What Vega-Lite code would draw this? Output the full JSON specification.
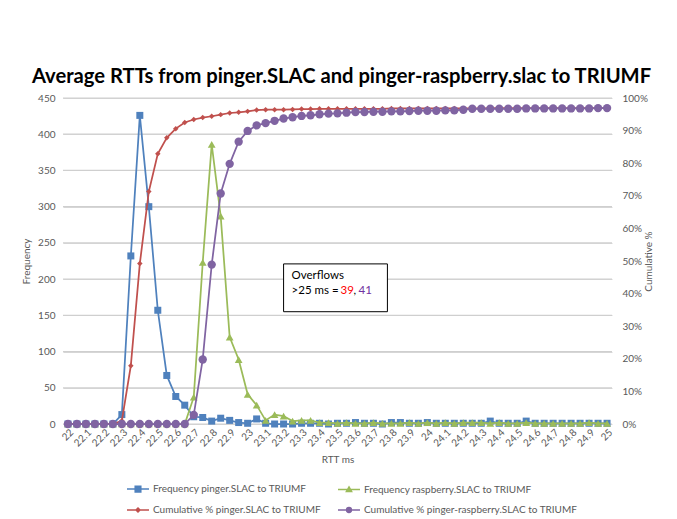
{
  "$schema": "https://vega.github.io/schema/vega-lite/v6.json",
  "width": 549,
  "height": 326,
  "autosize": {"type": "none"},
  "padding": {"left": 63, "top": 98, "right": 65, "bottom": 95},
  "title": {"text": "Average RTTs from pinger.SLAC and pinger-raspberry.slac to TRIUMF", "fontSize": 20.2, "font": "Lato", "fontWeight": "bold", "color": "#000000", "anchor": "middle", "offset": 6, "dx": 4},
  "datasets": {
    "gridv": [{"v": 0}, {"v": 50}, {"v": 100}, {"v": 150}, {"v": 200}, {"v": 250}, {"v": 300}, {"v": 350}, {"v": 400}, {"v": 450}],
    "rtt": [
      {"rtt": "22", "fp": 0, "fr": 0, "cp": 0, "cr": 0},
      {"rtt": "22.05", "fp": 0, "fr": 0, "cp": 0, "cr": 0},
      {"rtt": "22.1", "fp": 0, "fr": 0, "cp": 0, "cr": 0},
      {"rtt": "22.15", "fp": 0, "fr": 0, "cp": 0, "cr": 0},
      {"rtt": "22.2", "fp": 0, "fr": 0, "cp": 0, "cr": 0},
      {"rtt": "22.25", "fp": 0, "fr": 0, "cp": 0, "cr": 0},
      {"rtt": "22.3", "fp": 13, "fr": 0, "cp": 1, "cr": 0},
      {"rtt": "22.35", "fp": 232, "fr": 0, "cp": 17.9, "cr": 0},
      {"rtt": "22.4", "fp": 426, "fr": 0, "cp": 49.2, "cr": 0},
      {"rtt": "22.45", "fp": 300, "fr": 0, "cp": 71.3, "cr": 0},
      {"rtt": "22.5", "fp": 157, "fr": 0, "cp": 82.9, "cr": 0},
      {"rtt": "22.55", "fp": 67, "fr": 0, "cp": 87.8, "cr": 0},
      {"rtt": "22.6", "fp": 38, "fr": 0, "cp": 90.6, "cr": 0},
      {"rtt": "22.65", "fp": 26, "fr": 0, "cp": 92.5, "cr": 0},
      {"rtt": "22.7", "fp": 10, "fr": 37, "cp": 93.4, "cr": 2.8},
      {"rtt": "22.75", "fp": 9, "fr": 223, "cp": 94.0, "cr": 19.8},
      {"rtt": "22.8", "fp": 4, "fr": 386, "cp": 94.4, "cr": 48.9},
      {"rtt": "22.85", "fp": 8, "fr": 287, "cp": 94.9, "cr": 70.7},
      {"rtt": "22.9", "fp": 5, "fr": 120, "cp": 95.4, "cr": 79.8},
      {"rtt": "22.95", "fp": 2, "fr": 89, "cp": 95.6, "cr": 86.6},
      {"rtt": "23", "fp": 1, "fr": 41, "cp": 95.9, "cr": 89.9},
      {"rtt": "23.05", "fp": 7, "fr": 26, "cp": 96.3, "cr": 91.6},
      {"rtt": "23.1", "fp": 1, "fr": 5, "cp": 96.4, "cr": 92.3},
      {"rtt": "23.15", "fp": 0, "fr": 13, "cp": 96.4, "cr": 93.0},
      {"rtt": "23.2", "fp": 0, "fr": 11, "cp": 96.4, "cr": 93.7},
      {"rtt": "23.25", "fp": 0, "fr": 4, "cp": 96.5, "cr": 94.1},
      {"rtt": "23.3", "fp": 1, "fr": 5, "cp": 96.6, "cr": 94.5},
      {"rtt": "23.35", "fp": 1, "fr": 5, "cp": 96.6, "cr": 94.7},
      {"rtt": "23.4", "fp": 1, "fr": 2, "cp": 96.7, "cr": 95.0},
      {"rtt": "23.45", "fp": 0, "fr": 2, "cp": 96.7, "cr": 95.2},
      {"rtt": "23.5", "fp": 1, "fr": 1, "cp": 96.7, "cr": 95.3},
      {"rtt": "23.55", "fp": 1, "fr": 2, "cp": 96.7, "cr": 95.5},
      {"rtt": "23.6", "fp": 2, "fr": 1, "cp": 96.7, "cr": 95.7},
      {"rtt": "23.65", "fp": 1, "fr": 1, "cp": 96.7, "cr": 95.7},
      {"rtt": "23.7", "fp": 1, "fr": 2, "cp": 96.7, "cr": 95.8},
      {"rtt": "23.75", "fp": 0, "fr": 1, "cp": 96.7, "cr": 95.8},
      {"rtt": "23.8", "fp": 2, "fr": 1, "cp": 96.8, "cr": 95.9},
      {"rtt": "23.85", "fp": 2, "fr": 1, "cp": 96.8, "cr": 95.9},
      {"rtt": "23.9", "fp": 1, "fr": 2, "cp": 96.8, "cr": 96.0},
      {"rtt": "23.95", "fp": 1, "fr": 1, "cp": 96.8, "cr": 96.1},
      {"rtt": "24", "fp": 2, "fr": 2, "cp": 96.8, "cr": 96.1},
      {"rtt": "24.05", "fp": 1, "fr": 1, "cp": 96.8, "cr": 96.1},
      {"rtt": "24.1", "fp": 1, "fr": 2, "cp": 96.8, "cr": 96.2},
      {"rtt": "24.15", "fp": 1, "fr": 1, "cp": 96.8, "cr": 96.2},
      {"rtt": "24.2", "fp": 1, "fr": 2, "cp": 96.8, "cr": 96.4},
      {"rtt": "24.25", "fp": 1, "fr": 2, "cp": 96.8, "cr": 96.7},
      {"rtt": "24.3", "fp": 1, "fr": 2, "cp": 96.8, "cr": 96.7},
      {"rtt": "24.35", "fp": 4, "fr": 1, "cp": 96.9, "cr": 96.7},
      {"rtt": "24.4", "fp": 1, "fr": 2, "cp": 96.9, "cr": 96.7},
      {"rtt": "24.45", "fp": 1, "fr": 1, "cp": 96.9, "cr": 96.7},
      {"rtt": "24.5", "fp": 1, "fr": 1, "cp": 96.9, "cr": 96.7},
      {"rtt": "24.55", "fp": 4, "fr": 2, "cp": 96.9, "cr": 96.8},
      {"rtt": "24.6", "fp": 1, "fr": 1, "cp": 96.9, "cr": 96.8},
      {"rtt": "24.65", "fp": 1, "fr": 1, "cp": 96.9, "cr": 96.8},
      {"rtt": "24.7", "fp": 1, "fr": 1, "cp": 96.9, "cr": 96.8},
      {"rtt": "24.75", "fp": 1, "fr": 1, "cp": 96.9, "cr": 96.8},
      {"rtt": "24.8", "fp": 1, "fr": 1, "cp": 96.9, "cr": 96.8},
      {"rtt": "24.85", "fp": 1, "fr": 1, "cp": 96.9, "cr": 96.8},
      {"rtt": "24.9", "fp": 1, "fr": 2, "cp": 96.9, "cr": 96.8},
      {"rtt": "24.95", "fp": 1, "fr": 1, "cp": 96.9, "cr": 96.9},
      {"rtt": "25", "fp": 1, "fr": 1, "cp": 96.9, "cr": 96.9}
    ]
  },
  "layer": [
    {
      "layer": [
        {
          "data": {"name": "gridv"},
          "mark": {"type": "rule", "color": "#CFCFCF", "strokeWidth": 1.25},
          "encoding": {
            "y": {"field": "v", "type": "quantitative", "title": "Frequency", "axis": {"title": "Frequency", "values": [0,50,100,150,200,250,300,350,400,450], "orient": "left", "grid": true, "gridColor": "#D9D9D9", "ticks": false, "domain": false, "labelPadding": 8, "titlePadding": 6, "labelColor": "#595959", "titleColor": "#595959"}}
          }
        },
        {
          "data": {"name": "rtt"},
          "transform": [{"fold": ["fp", "fr"], "as": ["key", "value"]}],
          "encoding": {
            "x": {
              "field": "rtt", "type": "ordinal", "title": "RTT ms",
              "scale": {"type": "point", "padding": 0.55},
              "axis": {"title": "RTT ms", "values": ["22","22.1","22.2","22.3","22.4","22.5","22.6","22.7","22.8","22.9","23","23.1","23.2","23.3","23.4","23.5","23.6","23.7","23.8","23.9","24","24.1","24.2","24.3","24.4","24.5","24.6","24.7","24.8","24.9","25"], "labelAngle": -45, "labelPadding": 3, "ticks": false, "domain": false, "grid": false, "titlePadding": 6}
            },
            "y": {
              "field": "value", "type": "quantitative", "title": "Frequency",
              "scale": {"domain": [0, 450]},
              "axis": {"title": "Frequency", "values": [0,50,100,150,200,250,300,350,400,450], "orient": "left", "grid": true, "gridColor": "#D9D9D9", "ticks": false, "domain": false, "labelPadding": 8, "titlePadding": 6, "labelColor": "#595959", "titleColor": "#595959"}
            },
            "color": {
              "field": "key", "type": "nominal",
              "scale": {"domain": ["fp", "fr", "cp", "cr"], "range": ["#4F81BD", "#9BBB59", "#C0504D", "#8064A2"]},
              "legend": {
                "title": null,
                "orient": "none",
                "legendX": 64,
                "legendY": 380,
                "columns": 2,
                "direction": "horizontal",
                "columnPadding": 14,
                "rowPadding": 4,
                "symbolSize": 400,
                "labelFontSize": 10,
                "labelLimit": 400,
                "labelColor": "#595959",
                "labelOffset": 4,
                "labelExpr": "datum.value === 'fp' ? 'Frequency pinger.SLAC to TRIUMF' : datum.value === 'fr' ? 'Frequency raspberry.SLAC to TRIUMF' : datum.value === 'cp' ? 'Cumulative % pinger.SLAC to TRIUMF' : 'Cumulative % pinger-raspberry.SLAC to TRIUMF'",
                "encode": {
                  "symbols": {
                    "update": {
                      "shape": {"signal": "datum.value === 'fp' ? 'M-1.1,0H1.1M-0.28,-0.28H0.28V0.28H-0.28Z' : datum.value === 'fr' ? 'M-1.1,0H1.1M0,-0.26L0.26,0.2H-0.26Z' : datum.value === 'cp' ? 'M-1.1,0H1.1M0,-0.2L0.2,0L0,0.2L-0.2,0Z' : 'M-1.1,0H1.1M-0.24,0A0.24,0.24 0 1,0 0.24,0A0.24,0.24 0 1,0 -0.24,0Z'"},
                      "fill": {"scale": "color", "field": "value"},
                      "stroke": {"scale": "color", "field": "value"},
                      "strokeWidth": {"value": 1.5},
                      "opacity": {"value": 1}
                    }
                  }
                }
              }
            }
          },
          "layer": [
            {"transform": [{"filter": "datum.key === 'fp'"}], "mark": {"type": "line", "strokeWidth": 1.75}},
            {"transform": [{"filter": "datum.key === 'fp'"}], "mark": {"type": "point", "filled": true, "shape": "square", "size": 49, "opacity": 1}},
            {"transform": [{"filter": "datum.key === 'fr'"}], "mark": {"type": "line", "strokeWidth": 1.75}},
            {"transform": [{"filter": "datum.key === 'fr'"}], "mark": {"type": "point", "filled": true, "shape": "triangle-up", "size": 60, "opacity": 1}}
          ]
        },
        {
          "data": {"values": [{}]},
          "encoding": {
            "x": {"datum": "23.2", "type": "ordinal", "title": "RTT ms",
              "axis": {"title": "RTT ms", "values": ["22","22.1","22.2","22.3","22.4","22.5","22.6","22.7","22.8","22.9","23","23.1","23.2","23.3","23.4","23.5","23.6","23.7","23.8","23.9","24","24.1","24.2","24.3","24.4","24.5","24.6","24.7","24.8","24.9","25"], "labelAngle": -45, "labelPadding": 3, "ticks": false, "domain": false, "grid": false, "titlePadding": 6}
            }
          },
          "layer": [
            {
              "mark": {"type": "rect", "fill": "#ffffff", "stroke": "#000000", "strokeWidth": 1, "x2Offset": -4},
              "encoding": {
                "x2": {"datum": "23.8"},
                "y": {"datum": 221, "type": "quantitative", "title": "Frequency", "axis": {"title": "Frequency", "values": [0,50,100,150,200,250,300,350,400,450], "orient": "left", "grid": true, "gridColor": "#D9D9D9", "ticks": false, "domain": false, "labelPadding": 8, "titlePadding": 6, "labelColor": "#595959", "titleColor": "#595959"}},
                "y2": {"datum": 155}
              }
            },
            {
              "mark": {"type": "text", "text": "Overflows", "align": "left", "baseline": "middle", "dx": 8, "fontSize": 11.5, "font": "Lato", "color": "#000000"},
              "encoding": {"y": {"datum": 204, "type": "quantitative", "title": "Frequency", "axis": {"title": "Frequency", "values": [0,50,100,150,200,250,300,350,400,450], "orient": "left", "grid": true, "gridColor": "#D9D9D9", "ticks": false, "domain": false, "labelPadding": 8, "titlePadding": 6, "labelColor": "#595959", "titleColor": "#595959"}}}
            },
            {
              "mark": {"type": "text", "text": ">25 ms = ", "align": "left", "baseline": "middle", "dx": 8, "fontSize": 11.5, "font": "Lato", "color": "#000000"},
              "encoding": {"y": {"datum": 183.5, "type": "quantitative", "title": "Frequency", "axis": {"title": "Frequency", "values": [0,50,100,150,200,250,300,350,400,450], "orient": "left", "grid": true, "gridColor": "#D9D9D9", "ticks": false, "domain": false, "labelPadding": 8, "titlePadding": 6, "labelColor": "#595959", "titleColor": "#595959"}}}
            },
            {
              "mark": {"type": "text", "text": "39", "align": "left", "baseline": "middle", "dx": 57, "fontSize": 11.5, "font": "Lato", "color": "#FF0000"},
              "encoding": {"y": {"datum": 183.5, "type": "quantitative", "title": "Frequency", "axis": {"title": "Frequency", "values": [0,50,100,150,200,250,300,350,400,450], "orient": "left", "grid": true, "gridColor": "#D9D9D9", "ticks": false, "domain": false, "labelPadding": 8, "titlePadding": 6, "labelColor": "#595959", "titleColor": "#595959"}}}
            },
            {
              "mark": {"type": "text", "text": ",", "align": "left", "baseline": "middle", "dx": 70, "fontSize": 11.5, "font": "Lato", "color": "#000000"},
              "encoding": {"y": {"datum": 183.5, "type": "quantitative", "title": "Frequency", "axis": {"title": "Frequency", "values": [0,50,100,150,200,250,300,350,400,450], "orient": "left", "grid": true, "gridColor": "#D9D9D9", "ticks": false, "domain": false, "labelPadding": 8, "titlePadding": 6, "labelColor": "#595959", "titleColor": "#595959"}}}
            },
            {
              "mark": {"type": "text", "text": "41", "align": "left", "baseline": "middle", "dx": 75, "fontSize": 11.5, "font": "Lato", "color": "#7030A0"},
              "encoding": {"y": {"datum": 183.5, "type": "quantitative", "title": "Frequency", "axis": {"title": "Frequency", "values": [0,50,100,150,200,250,300,350,400,450], "orient": "left", "grid": true, "gridColor": "#D9D9D9", "ticks": false, "domain": false, "labelPadding": 8, "titlePadding": 6, "labelColor": "#595959", "titleColor": "#595959"}}}
            }
          ]
        }
      ]
    },
    {
      "data": {"name": "rtt"},
      "transform": [{"fold": ["cp", "cr"], "as": ["key", "value"]}],
      "encoding": {
        "x": {"field": "rtt", "type": "ordinal", "title": "RTT ms"},
        "y": {
          "field": "value", "type": "quantitative", "title": "Cumulative %",
          "scale": {"domain": [0, 100]},
          "axis": {"title": "Cumulative %", "orient": "right", "values": [0,10,20,30,40,50,60,70,80,90,100], "labelExpr": "datum.value + '%'", "grid": false, "ticks": false, "domain": false, "labelPadding": 10, "titlePadding": 6, "titleAngle": 270}
        },
        "color": {"field": "key", "type": "nominal"}
      },
      "layer": [
        {"transform": [{"filter": "datum.key === 'cp'"}], "mark": {"type": "line", "strokeWidth": 1.75}},
        {"transform": [{"filter": "datum.key === 'cp'"}], "mark": {"type": "point", "filled": true, "shape": "diamond", "size": 30, "opacity": 1}},
        {"transform": [{"filter": "datum.key === 'cr'"}], "mark": {"type": "line", "strokeWidth": 1.75}},
        {"transform": [{"filter": "datum.key === 'cr'"}], "mark": {"type": "point", "filled": true, "shape": "circle", "size": 70, "opacity": 1}}
      ]
    }
  ],
  "resolve": {"scale": {"y": "independent"}},
  "config": {
    "font": "Lato",
    "view": {"stroke": null},
    "background": "#ffffff",
    "axis": {
      "labelFont": "Lato", "labelFontSize": 10, "labelColor": "#595959",
      "titleFont": "Lato", "titleFontSize": 10, "titleColor": "#595959", "titleFontWeight": "normal",
      "gridColor": "#D9D9D9", "gridWidth": 1
    },
    "legend": {"labelFont": "Lato"}
  }
}
